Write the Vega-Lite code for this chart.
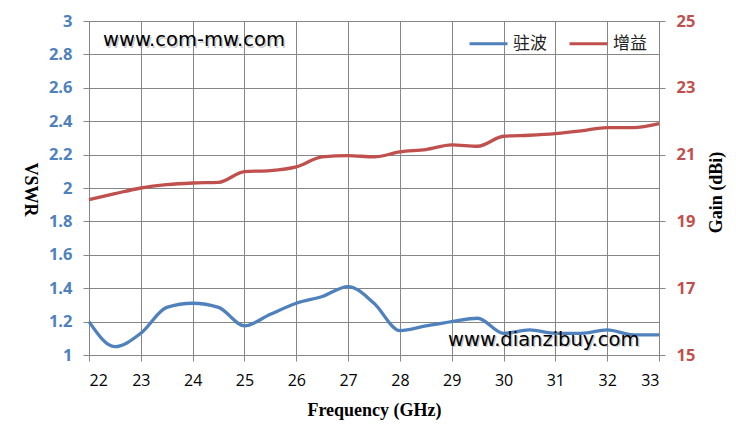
{
  "$schema": "https://vega.github.io/schema/vega-lite/v6.json",
  "autosize": {"type": "none"},
  "padding": {"left": 89, "top": 21, "right": 77, "bottom": 84},
  "width": 570,
  "height": 334,
  "background": "white",
  "config": {
    "view": {"stroke": null},
    "axis": {"gridColor": "#868686", "gridWidth": 1, "tickColor": "#868686", "domainColor": "#868686", "tickSize": 6, "labelFont": "Open Sans", "titleFont": "Liberation Serif", "titleFontSize": 18, "titleFontWeight": "bold", "titleColor": "#000000"},
    "legend": {"orient": "none", "legendX": 379, "legendY": 2, "direction": "horizontal", "symbolType": "stroke", "symbolSize": 1444, "symbolStrokeWidth": 3, "labelFont": "Noto Sans CJK SC", "labelFontSize": 17, "labelColor": "#222222", "columnPadding": 16, "labelOffset": 4, "title": null}
  },
  "datasets": {
    "vswr": [
      {"f": 22, "v": 1.2}, {"f": 22.5, "v": 1.05}, {"f": 23, "v": 1.13}, {"f": 23.5, "v": 1.285},
      {"f": 24, "v": 1.31}, {"f": 24.5, "v": 1.285}, {"f": 25, "v": 1.175}, {"f": 25.5, "v": 1.244},
      {"f": 26, "v": 1.31}, {"f": 26.5, "v": 1.35}, {"f": 27, "v": 1.41}, {"f": 27.5, "v": 1.31},
      {"f": 28, "v": 1.146}, {"f": 28.5, "v": 1.174}, {"f": 29, "v": 1.2}, {"f": 29.5, "v": 1.22},
      {"f": 30, "v": 1.13}, {"f": 30.5, "v": 1.15}, {"f": 31, "v": 1.13}, {"f": 31.5, "v": 1.13},
      {"f": 32, "v": 1.15}, {"f": 32.5, "v": 1.12}, {"f": 33, "v": 1.12}
    ],
    "gain": [
      {"f": 22, "g": 19.65}, {"f": 22.5, "g": 19.83}, {"f": 23, "g": 20.0}, {"f": 23.5, "g": 20.1},
      {"f": 24, "g": 20.15}, {"f": 24.5, "g": 20.17}, {"f": 25, "g": 20.49}, {"f": 25.5, "g": 20.52},
      {"f": 26, "g": 20.63}, {"f": 26.5, "g": 20.93}, {"f": 27, "g": 20.97}, {"f": 27.5, "g": 20.93},
      {"f": 28, "g": 21.08}, {"f": 28.5, "g": 21.15}, {"f": 29, "g": 21.29}, {"f": 29.5, "g": 21.25},
      {"f": 30, "g": 21.55}, {"f": 30.5, "g": 21.58}, {"f": 31, "g": 21.63}, {"f": 31.5, "g": 21.71},
      {"f": 32, "g": 21.81}, {"f": 32.5, "g": 21.81}, {"f": 33, "g": 21.93}
    ],
    "marks": [
      {"f": 22.27, "v": 2.886, "label": "www.com-mw.com"},
      {"f": 28.93, "v": 1.09, "label": "www.dianzibuy.com"}
    ]
  },
  "encoding": {
    "x": {
      "field": "f", "type": "quantitative",
      "scale": {"domain": [22, 33], "nice": false, "zero": false},
      "axis": {"values": [22, 23, 24, 25, 26, 27, 28, 29, 30, 31, 32, 33], "labelFontSize": 16, "labelColor": "#000000", "labelPadding": 11, "grid": true, "title": "Frequency (GHz)", "titleX": 285, "titleY": 55, "titleBaseline": "middle", "titleAlign": "center"}
    }
  },
  "layer": [
    {
      "encoding": {
        "y": {
          "field": "v", "type": "quantitative",
          "scale": {"domain": [1, 3], "nice": false, "zero": false},
          "axis": {"orient": "left", "values": [1, 1.2, 1.4, 1.6, 1.8, 2, 2.2, 2.4, 2.6, 2.8, 3], "format": "~g", "labelColor": "#4F81BD", "labelFontWeight": "bold", "labelFontSize": 16.5, "labelPadding": 11, "grid": true, "title": "VSWR", "titleAngle": 90, "titleX": -60, "titleY": 168, "titleAlign": "center", "titleBaseline": "middle"}
        }
      },
      "layer": [
        {
          "data": {"name": "vswr"},
          "mark": {"type": "line", "interpolate": "monotone", "strokeWidth": 3.3},
          "encoding": {"color": {"datum": "驻波", "type": "nominal", "scale": {"domain": ["驻波", "增益"], "range": ["#4F81BD", "#C0504D"]}}}
        },
        {
          "data": {"name": "marks"},
          "mark": {"type": "text", "font": "DejaVu Sans", "fontSize": 19.5, "align": "left", "baseline": "middle", "color": "#9a9a9a", "opacity": 0.5, "dx": 1.5, "dy": 1.5},
          "encoding": {"text": {"field": "label"}}
        },
        {
          "data": {"name": "marks"},
          "mark": {"type": "text", "font": "DejaVu Sans", "fontSize": 19.5, "align": "left", "baseline": "middle", "color": "#000000"},
          "encoding": {"text": {"field": "label"}}
        }
      ]
    },
    {
      "data": {"name": "gain"},
      "mark": {"type": "line", "interpolate": "monotone", "strokeWidth": 3.3},
      "encoding": {
        "y": {
          "field": "g", "type": "quantitative",
          "scale": {"domain": [15, 25], "nice": false, "zero": false},
          "axis": {"orient": "right", "values": [15, 17, 19, 21, 23, 25], "labelColor": "#C0504D", "labelFontWeight": "bold", "labelFontSize": 16.5, "labelPadding": 11, "grid": false, "title": "Gain (dBi)", "titleAngle": -90, "titleX": 57, "titleY": 171, "titleAlign": "center", "titleBaseline": "middle"}
        },
        "color": {"datum": "增益", "type": "nominal"}
      }
    }
  ],
  "resolve": {"scale": {"y": "independent"}}
}
